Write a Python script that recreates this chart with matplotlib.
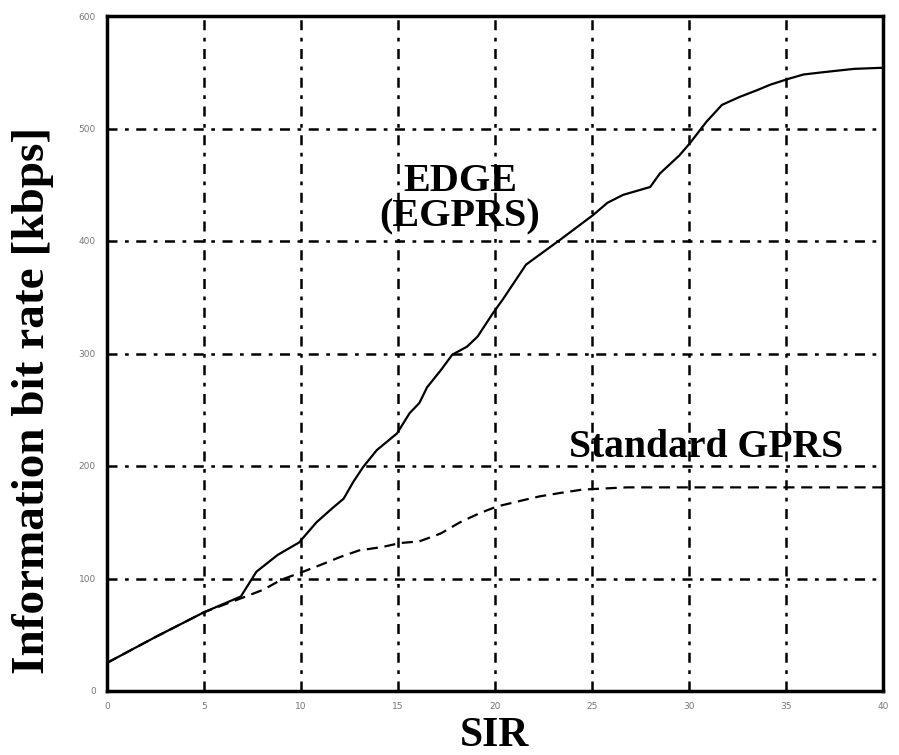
import matplotlib
matplotlib.use("Agg")
import matplotlib.pyplot as plt

# EDGE (EGPRS) curve
edge_x = [0, 2.5, 5, 6.9, 7.7, 8.8, 9.9, 10.8, 11.65, 12.2, 12.7, 13.2, 13.9, 14.95, 15.6,
          16.1, 16.5, 17.2, 17.8, 18.55, 19.1, 19.9, 20.4, 21.6, 23.35, 25.05, 25.8, 26.6,
          28, 28.5, 29.5, 30.05, 30.9, 31.7, 32.6, 33.5, 34.2, 35.1, 35.9, 36.9, 38.5, 40]
edge_y = [25, 48, 70, 84, 106, 121, 132, 150, 163, 171, 186, 199, 214, 229, 247,
          256, 270, 285, 299, 306, 315, 336, 348, 379, 401, 423, 434, 441,
          448, 460, 476, 487, 506, 521, 528, 534, 539, 544, 548, 550, 553, 554]

# Standard GPRS curve
gprs_x = [0, 2.5, 5, 7, 8.05, 9, 10.1, 11, 12, 13, 14.2, 15.1, 16.1, 17.2, 18.2, 19.2,
          20.1, 21.3, 22.3, 23.35, 24.5, 25.6, 26.8, 30, 35, 40]
gprs_y = [25, 48, 70, 83, 90, 99, 106, 112, 119, 125, 128, 131.5, 133, 140, 150, 158,
          164, 169, 173, 176, 179, 180, 181, 181, 181, 181]

x_ticks = [0, 5, 10, 15, 20, 25, 30, 35, 40]
y_ticks = [0, 100, 200, 300, 400, 500, 600]

fig = plt.figure(figsize=(8.99, 7.55), dpi=100)
ax = fig.add_axes([107/899, 1-691/755, 776/899, 675/755])

ax.plot(edge_x, edge_y, color="black", lw=1.6)
ax.plot(gprs_x, gprs_y, color="black", lw=1.6, ls=(0, (5, 3)))

ax.set_xlim(0, 40)
ax.set_ylim(0, 600)
ax.set_xticks(x_ticks)
ax.set_yticks(y_ticks)
ax.set_xticklabels([str(v) for v in x_ticks])
ax.set_yticklabels([str(v) for v in y_ticks])
ax.tick_params(length=0, labelsize=6.5, colors="#777777", pad=8)
ax.grid(True, color="black", lw=1.8, ls=(0, (4, 3, 1.5, 3)))
for s in ax.spines.values():
    s.set_linewidth(2.5)

serif = ["Liberation Serif", "DejaVu Serif"]
ax.text(18.2, 453, "EDGE", family=serif, weight="bold", fontsize=29, ha="center", va="center")
ax.text(18.2, 421, "(EGPRS)", family=serif, weight="bold", fontsize=29, ha="center", va="center")
ax.text(30.9, 216, "Standard GPRS", family=serif, weight="bold", fontsize=28.5, ha="center", va="center")

ax.set_xlabel("SIR", family=serif, weight="bold", fontsize=30, labelpad=4)
fig.text(33/899, 1-400/755, "Information bit rate [kbps]", family=serif, weight="bold",
         fontsize=34, rotation=90, ha="center", va="center")

fig.savefig("out.png", dpi=100)
